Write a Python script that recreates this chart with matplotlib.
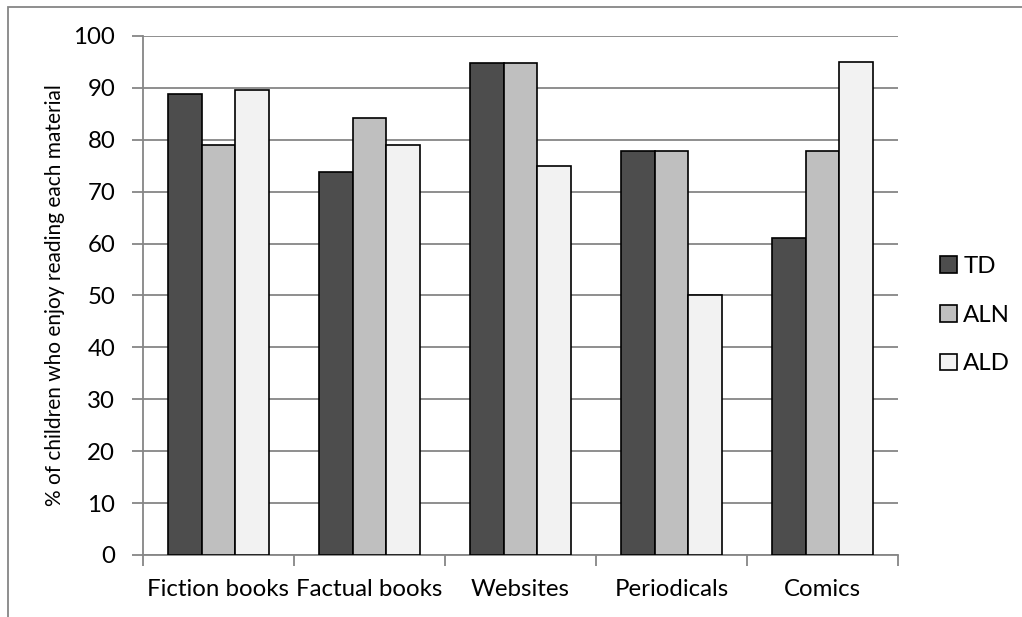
"""
Bar chart: share of children who enjoy reading each type of material, by group.
"""

import numpy as np
import matplotlib.pyplot as plt
from matplotlib.patches import Rectangle

plt.rcParams["font.family"] = ["Lato", "DejaVu Sans"]

materials = ["Fiction books", "Factual books", "Websites", "Periodicals", "Comics"]
groups = ["TD", "ALN", "ALD"]

td = [88.9, 73.7, 94.7, 77.8, 61.1]
aln = [78.9, 84.2, 94.7, 77.8, 77.8]
ald = [89.5, 78.9, 75.0, 50.0, 95.0]

colors = ["#4d4d4d", "#bfbfbf", "#f2f2f2"]
grid_grey = "#868686"


def main():
    fig = plt.figure(figsize=(10.22, 6.17), dpi=100)
    ax = fig.add_axes([0.1399, 0.1005, 0.7388, 0.8412])

    x = np.arange(len(materials))
    width = 0.223
    for i, (name, vals) in enumerate(zip(groups, [td, aln, ald])):
        ax.bar(x + (i - 1) * width, vals, width, color=colors[i],
               edgecolor="black", linewidth=1.2, label=name, zorder=3)

    ax.set_xlim(-0.5, len(materials) - 0.5)
    ax.set_ylim(0, 100)
    ax.set_yticks(range(0, 101, 10))
    ax.yaxis.grid(True, color=grid_grey, linewidth=1.3, zorder=0)

    # category boundaries get the tick marks, labels sit between them
    ax.set_xticks(np.arange(-0.5, len(materials), 1.0))
    ax.set_xticklabels([])
    ax.set_xticks(x, minor=True)
    ax.set_xticklabels(materials, minor=True)
    ax.tick_params(axis="x", which="major", length=8, width=1.3, color=grid_grey)
    ax.tick_params(axis="x", which="minor", length=0, pad=17, labelsize=17.3)
    ax.tick_params(axis="y", length=8, width=1.3, color=grid_grey, pad=12, labelsize=17.3)

    for side in ["top", "right"]:
        ax.spines[side].set_visible(False)
    for side in ["left", "bottom"]:
        ax.spines[side].set_color(grid_grey)
        ax.spines[side].set_linewidth(1.3)

    ax.set_ylabel("% of children who enjoy reading each material", fontsize=15, labelpad=6)

    ax.legend(loc="center left", bbox_to_anchor=(1.056, 0.462), frameon=False,
              fontsize=17.3, handlelength=0.7, handleheight=0.7, handletextpad=0.25,
              labelspacing=1.15, borderpad=0, borderaxespad=0)

    # thin frame around the chart area
    fig.patches.append(Rectangle((8 / 1022, -0.1), 1.2, 1 - 7 / 617 + 0.1,
                                 transform=fig.transFigure, fill=False,
                                 edgecolor=grid_grey, linewidth=1.3))

    fig.savefig("out.png", dpi=100)


if __name__ == "__main__":
    main()
